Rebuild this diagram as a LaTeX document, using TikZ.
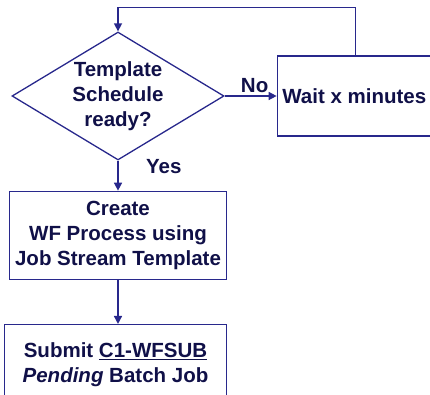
\documentclass[tikz,border=0pt]{standalone}
\usepackage{fontspec}
\setmainfont{Liberation Sans}
\usetikzlibrary{arrows.meta,positioning,shapes.geometric}
\definecolor{flowline}{RGB}{40,40,140}
\definecolor{flowtext}{RGB}{16,16,72}

\begin{document}
\begin{tikzpicture}[
    x=1pt, y=1pt,
    every node/.style={font=\bfseries\fontsize{20.5}{25}\selectfont, text=flowtext},
    decision/.style={draw=flowline, diamond, aspect=1.66, inner sep=0pt, minimum width=212pt, minimum height=128pt, align=center, line width=1.3pt},
    task/.style={draw=flowline, rectangle, align=center, inner sep=0pt, line width=1.3pt},
    flow/.style={-{Triangle[length=8pt,width=8pt]}, line width=1.5pt, draw=flowline}
]
\useasboundingbox (0,0) rectangle (430,394);
\node[decision] (ready) at (118,298) {Template\\Schedule\\ready?};
\node[task, minimum width=176pt, minimum height=80pt, right=52pt of ready] (wait) {Wait x minutes\hspace*{22pt}};
\node[task, minimum width=217pt, minimum height=88pt, below=30pt of ready] (create) {Create\\WF Process using\\Job Stream Template};
\node[task, minimum width=222pt, minimum height=80pt, below=44pt of create, xshift=-2.5pt] (submit) {Submit \underline{C1-WFSUB}\\\textit{Pending} Batch Job};
\coordinate[above=48pt of wait.north, xshift=-10pt] (loop);
\draw[flow] (ready) -- node[above=-1pt, xshift=4pt] {No} (wait);
\draw[flow] (ready) -- node[pos=0.2, anchor=west, xshift=24pt] {Yes} (create);
\draw[flow] (create.south) -- (create.south |- submit.north);
\draw[flow] (loop |- wait.north) -- (loop) -| (ready.north);
\end{tikzpicture}
\end{document}
